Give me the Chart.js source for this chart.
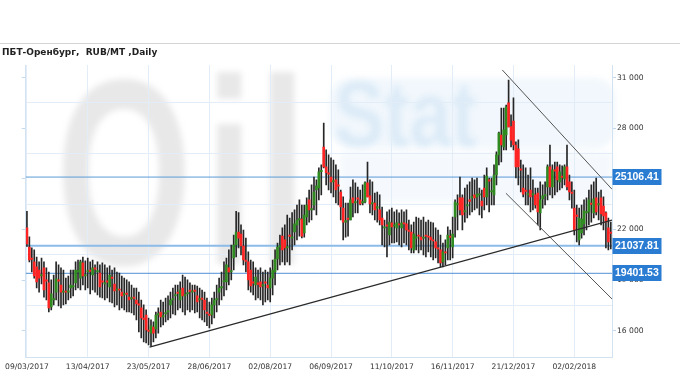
<!DOCTYPE html>
<html><head><meta charset="utf-8">
<script src="https://cdn.jsdelivr.net/npm/chart.js@4.4.1/dist/chart.umd.min.js"></script>
<style>html,body{margin:0;padding:0;background:#fff}canvas{display:block}</style>
</head><body>
<canvas id="c" width="680" height="380"></canvas>
<script>
const chartTitle = 'ПБТ-Оренбург,  RUB/MT ,Daily';
const tickLabels = ['09/03/2017','13/04/2017','23/05/2017','28/06/2017','02/08/2017','06/09/2017','11/10/2017','16/11/2017','21/12/2017','02/02/2018'];
const tickEvery = 25;
const yLabelValues = [16000,19000,22000,25000,28000,31000];
const yGridValues = [17500,20500,23500,26500,29500];
const levels = [25106.41, 21037.81, 19401.53];
const trendFromX = [50.4, 195.4, 196.9];
const trendFromY = [15020, 31456, 24147];
const trendToX = [240.5, 240.5, 240.5];
const trendToY = [22560, 24384, 17881];

const highs = [23070,21560,20910,20790,20370,20080,20310,20080,19720,19480,
19010,19300,20080,19900,19720,19600,19120,19240,19600,19600,
20080,20190,20190,20370,20140,20310,20080,20190,19900,20080,
19900,20020,19900,19720,19840,19600,19720,19480,19420,19240,
19120,19010,18890,18710,18530,18530,18290,17820,17530,17230,
16750,16640,16520,17110,17350,17820,17700,17940,18060,18290,
18530,18710,18710,18890,19300,19180,19010,18830,18710,18710,
18650,18530,18410,18290,17940,17700,17940,18290,18710,19120,
19480,20080,20310,20790,21080,21670,23070,23000,22270,21970,
21490,20670,20190,20080,19720,19600,19720,19480,19600,19480,
19720,20190,20790,21200,21670,22090,22270,22860,22680,23000,
23160,23450,23750,23450,23450,23870,24340,24640,25110,24940,
25650,25830,28300,26720,26420,26240,26120,25830,25530,24340,
23930,23570,23570,24520,24940,24760,24520,24340,24640,24820,
26000,24940,24820,24160,24220,24050,23330,22560,23040,23160,
23270,23040,23160,22980,23160,23040,23160,22560,22270,22440,
22740,22680,22560,22740,22440,22560,22440,22390,22090,21970,
21670,21200,21380,22150,21970,22740,23750,24050,25110,24050,
24460,24640,24820,25050,24940,25050,24460,24340,25230,25650,
25050,25050,25830,26600,27780,29200,29200,29380,30860,28790,
29800,27190,27310,26120,25830,25650,25230,25650,24940,24460,
24460,24820,24640,24820,25830,27010,25830,26000,26000,25830,
25770,25830,27010,25230,24820,24340,23450,23270,23450,23750,
23870,24340,24640,24820,25050,24220,24340,23930,23040,22680,
22440];
const lows = [20990,20080,19480,19120,18530,18290,18770,17990,17820,17110,
17230,17530,17820,17470,17350,17530,17590,17820,17940,18060,
18410,18530,18410,18710,18410,18530,18180,18410,18290,18120,
17990,17940,17820,17940,17700,17650,17410,17530,17230,17350,
17230,17110,17110,17050,16930,16640,15930,15570,15330,15270,
15160,15100,15330,15570,15860,16220,16340,16520,16640,16750,
16990,16930,17230,17350,17110,16930,17230,17110,17230,17050,
17110,16750,16640,16520,16290,16160,16400,16750,17110,17530,
17820,18060,18410,18710,19010,19600,20370,20910,20490,19900,
19480,18410,18290,18120,17820,17940,17820,17530,17700,17820,
17700,18120,18710,19600,19900,20080,19900,20080,19900,20790,
21080,21380,21610,21500,21550,22270,22440,22560,23160,22860,
23750,24050,25650,24640,24340,24160,23930,23570,23450,22560,
21380,21550,21610,22560,22740,22980,22980,23450,23450,23570,
23930,22980,22860,22560,22440,22270,21080,20960,20370,21080,
21200,21200,21260,21080,20960,21200,21080,20790,20610,20610,
20790,20610,20790,20490,20370,20670,20370,20190,20310,20020,
19780,19780,19900,20190,20190,20310,21550,21970,22860,21970,
22440,22680,22860,23040,23160,23270,22860,22680,23160,23450,
23040,23450,23450,24640,25830,26000,26720,26720,28080,26900,
26720,25050,24640,24220,23930,23450,23450,23040,23160,23270,
22270,21970,23270,23450,23750,24050,23870,24050,24220,24340,
24460,24640,24340,23750,23270,21670,21260,21080,21490,21670,
21970,22270,22440,22680,22860,22560,22270,21970,20910,20790,
20850];
const opens = [22090,20960,20310,20080,19780,19600,19240,19720,19010,18830,
17410,17820,18290,19010,18710,18290,18350,18290,18530,18590,
18830,19480,19120,20020,19240,19480,19600,19300,19720,19480,
19420,18950,18770,18950,18590,19180,18770,18410,18470,18290,
18120,18230,17990,17880,17990,17820,17590,17350,16750,16930,
16040,15860,16220,16100,16930,17110,16810,16990,17110,17530,
17820,18060,18290,17820,18530,18060,18180,18410,18290,18410,
18060,17820,17940,17820,17110,16990,16930,17530,17820,18290,
18530,18890,18890,19720,19480,20310,21080,21850,21730,21020,
20190,20080,19600,18890,18710,18830,18890,18650,18890,18710,
18530,19120,19480,20250,20960,21610,21380,20910,21670,21490,
21850,22270,22560,22620,21790,22740,23750,23160,23450,24340,
24460,25420,26890,25710,25360,25110,24820,24940,24640,24220,
23270,22440,22680,22560,23870,23570,23870,23750,23570,23630,
24760,23990,23510,23570,23270,23160,22680,22090,22270,21670,
22390,22210,22090,22330,22090,22390,22330,21970,21850,20790,
21490,21670,21550,21490,21640,21610,21550,21380,21260,20910,
20790,20080,20670,20910,21610,20960,22740,23450,23870,23870,
23040,23390,23750,23870,24050,23930,24050,23690,24460,23930,
24940,24220,24050,25230,26420,27600,26890,27600,29500,28100,
28430,27010,26780,25590,24460,24340,24050,24340,24050,24050,
24160,22980,23810,23990,24520,25710,24520,25530,25710,24820,
25170,24990,25710,24820,24220,23270,22860,21380,21790,22330,
22980,23040,23570,22980,23870,23450,23870,23390,22980,22090,
21850];
const closes = [21140,20190,20230,19240,18890,19120,19320,18410,18930,17350,
18180,17900,19070,18930,18290,18350,18290,18370,18710,18670,
19600,19560,20080,19240,19320,19560,19520,19720,19640,19560,
18590,18870,18850,18870,19300,19100,18350,18470,18400,18060,
18200,18150,17820,17960,17910,17590,17510,16750,16670,16040,
15960,16290,15860,16930,17010,16810,16890,17070,17190,17820,
17900,18140,18210,18410,18060,18140,18260,18330,18370,18330,
17700,17900,17860,17230,17030,16910,17530,17820,17900,18530,
18610,18970,19900,19480,19560,21080,21850,21490,21020,20190,
20110,19010,18650,18810,19180,18750,18590,18730,18810,18530,
19120,19600,20250,20960,21040,20790,20910,20990,21590,21570,
22330,22560,22640,21610,22860,23450,23160,23240,24220,24580,
25420,25500,25710,25360,25280,24820,24900,24340,24560,23330,
22440,22520,22600,23750,23570,23650,23790,23510,23650,24760,
23930,23510,23590,23160,23350,22560,22270,22150,22190,22440,
22150,22270,22390,22270,22390,22330,21970,21890,20910,21730,
21570,21610,21380,21550,21610,21550,21380,21320,20910,20850,
20020,20670,20610,21670,21530,21730,23630,23530,23160,22860,
23120,23470,23670,23950,23870,24100,24100,23390,23930,25170,
24860,24300,25230,26420,27720,27010,27900,29270,28080,27300,
27010,25710,25710,25510,24100,24260,24130,23930,24130,23450,
23040,23750,23990,24070,25710,24520,25530,25450,24940,25410,
25090,25710,24520,24220,24140,21970,22780,22680,22620,23100,
23060,23750,23490,23810,23040,23530,22920,22800,22440,21260,
21770];

const Y_MIN = 14440, Y_MAX = 31750;
const X_MIN = -0.5, X_MAX = highs.length - 0.5;
const fmtThousands = v => String(v).replace(/\B(?=(\d{3})+(?!\d))/g, ' ');

Chart.defaults.font.family = '"DejaVu Sans", sans-serif';

const watermark = {
  id: 'watermark',
  beforeDraw(chart) {
    const ctx = chart.ctx;
    ctx.save();
    ctx.filter = 'blur(3px)';
    ctx.fillStyle = '#e8e8e8';
    ctx.font = 'bold 265px "Liberation Sans"';
    [['O', 56], ['i', 205], ['l', 258]].forEach(([ch, x]) => {
      ctx.save(); ctx.translate(x, 264); ctx.scale(0.66, 1); ctx.fillText(ch, 0, 0); ctx.restore();
    });
    ctx.fillStyle = 'rgba(218,233,248,0.38)';
    ctx.beginPath(); ctx.roundRect(330, 78, 285, 70, 20); ctx.fill();
    ctx.fillStyle = 'rgba(218,233,248,0.28)';
    ctx.fillRect(340, 152, 272, 50);
    ctx.fillStyle = 'rgba(200,223,244,0.5)';
    ctx.font = 'bold 92px "Liberation Sans"';
    ctx.save(); ctx.translate(334, 146); ctx.scale(0.82, 1); ctx.fillText('Stat', 0, 0); ctx.restore();
    ctx.restore();
  }
};

const header = {
  id: 'header',
  afterDraw(chart) {
    const ctx = chart.ctx;
    ctx.save();
    ctx.strokeStyle = '#d4d4d4'; ctx.lineWidth = 1;
    ctx.beginPath(); ctx.moveTo(0, 43.5); ctx.lineTo(chart.width, 43.5); ctx.stroke();
    ctx.fillStyle = '#222';
    ctx.font = 'bold 9px "DejaVu Sans"';
    ctx.textBaseline = 'alphabetic';
    ctx.fillText(chartTitle, 2, 54.5);
    ctx.restore();
  }
};

const levelTags = {
  id: 'levelTags',
  afterDraw(chart) {
    const ctx = chart.ctx, ys = chart.scales.y, left = chart.chartArea.right;
    ctx.save();
    ctx.font = 'bold 10.5px "Liberation Sans"';
    ctx.textBaseline = 'middle';
    levels.forEach(v => {
      const p = Math.round(ys.getPixelForValue(v));
      ctx.fillStyle = '#2a7bd2';
      ctx.fillRect(left + 0.5, p - 8, 49, 16);
      ctx.fillStyle = '#ffffff';
      ctx.fillText(v.toFixed(2), left + 3, p + 0.5);
    });
    ctx.restore();
  }
};

const idx = highs.map((_, i) => i);
const datasets = [
  {
    type: 'bar', label: 'wick', order: 3, grouped: false,
    data: idx.map(i => ({x: i, y: [lows[i], highs[i]]})),
    backgroundColor: '#262626', barThickness: 1
  },
  {
    type: 'bar', label: 'body', order: 2, grouped: false,
    data: idx.map(i => ({x: i, y: [opens[i], closes[i]]})),
    backgroundColor: idx.map(i => closes[i] >= opens[i] ? '#2f8a1f' : '#ff2424'),
    barThickness: 2, minBarLength: 1
  }
];
const levelColors = ['#5a9ad6', '#8dbbe8', '#4f90d4'];
const levelWidths = [1, 2, 1];
levels.forEach((v, k) => datasets.push({
  type: 'line', order: 5, data: [{x: X_MIN, y: v}, {x: X_MAX, y: v}],
  borderColor: levelColors[k], borderWidth: levelWidths[k], pointRadius: 0
}));
const trendColors = ['#2a2a2a', '#555', '#555'];
const trendWidths = [1.3, 1, 1];
trendFromX.forEach((x0, k) => datasets.push({
  type: 'line', order: 1, data: [{x: x0, y: trendFromY[k]}, {x: trendToX[k], y: trendToY[k]}],
  borderColor: trendColors[k], borderWidth: trendWidths[k], pointRadius: 0
}));

const gridBlue = '#e3edf7';
new Chart(document.getElementById('c'), {
  type: 'bar',
  data: {datasets},
  options: {
    responsive: false, animation: false, devicePixelRatio: 1,
    layout: {padding: {top: 65, left: 0, right: 0, bottom: 0}},
    plugins: {legend: {display: false}, tooltip: {enabled: false}},
    scales: {
      x: {
        type: 'linear', min: X_MIN, max: X_MAX, offset: false,
        afterBuildTicks: s => { s.ticks = tickLabels.map((_, k) => ({value: k * tickEvery})); },
        afterFit: s => { s.height = 23; },
        ticks: {
          autoSkip: false, maxRotation: 0, padding: 5, color: '#333',
          font: {size: 7.6},
          callback: v => tickLabels[v / tickEvery] || ''
        },
        grid: {offset: false, color: gridBlue, drawTicks: false},
        border: {color: '#d3e2f1'}
      },
      y: {
        type: 'linear', position: 'right', min: Y_MIN, max: Y_MAX,
        afterBuildTicks: s => { s.ticks = yLabelValues.concat(yGridValues).sort((a, b) => a - b).map(v => ({value: v})); },
        afterFit: s => { s.width = 68; },
        ticks: {
          padding: 1, color: '#333', font: {size: 7.6},
          callback: v => yLabelValues.includes(v) ? fmtThousands(v) : ''
        },
        grid: {
          tickLength: 4,
          color: c => yGridValues.includes(c.tick.value) ? gridBlue : 'rgba(0,0,0,0)',
          tickColor: c => yLabelValues.includes(c.tick.value) ? '#c6d9ec' : 'rgba(0,0,0,0)'
        },
        border: {color: '#d3e2f1'}
      },
      yL: {
        type: 'linear', position: 'left', min: Y_MIN, max: Y_MAX,
        afterBuildTicks: s => { s.ticks = yLabelValues.map(v => ({value: v})); },
        afterFit: s => { s.width = 22; },
        ticks: {callback: () => '', padding: 0},
        grid: {drawOnChartArea: false, tickLength: 4, tickColor: '#c6d9ec'},
        border: {color: '#d3e2f1'}
      }
    }
  },
  plugins: [watermark, header, levelTags]
});
</script>
</body></html>
